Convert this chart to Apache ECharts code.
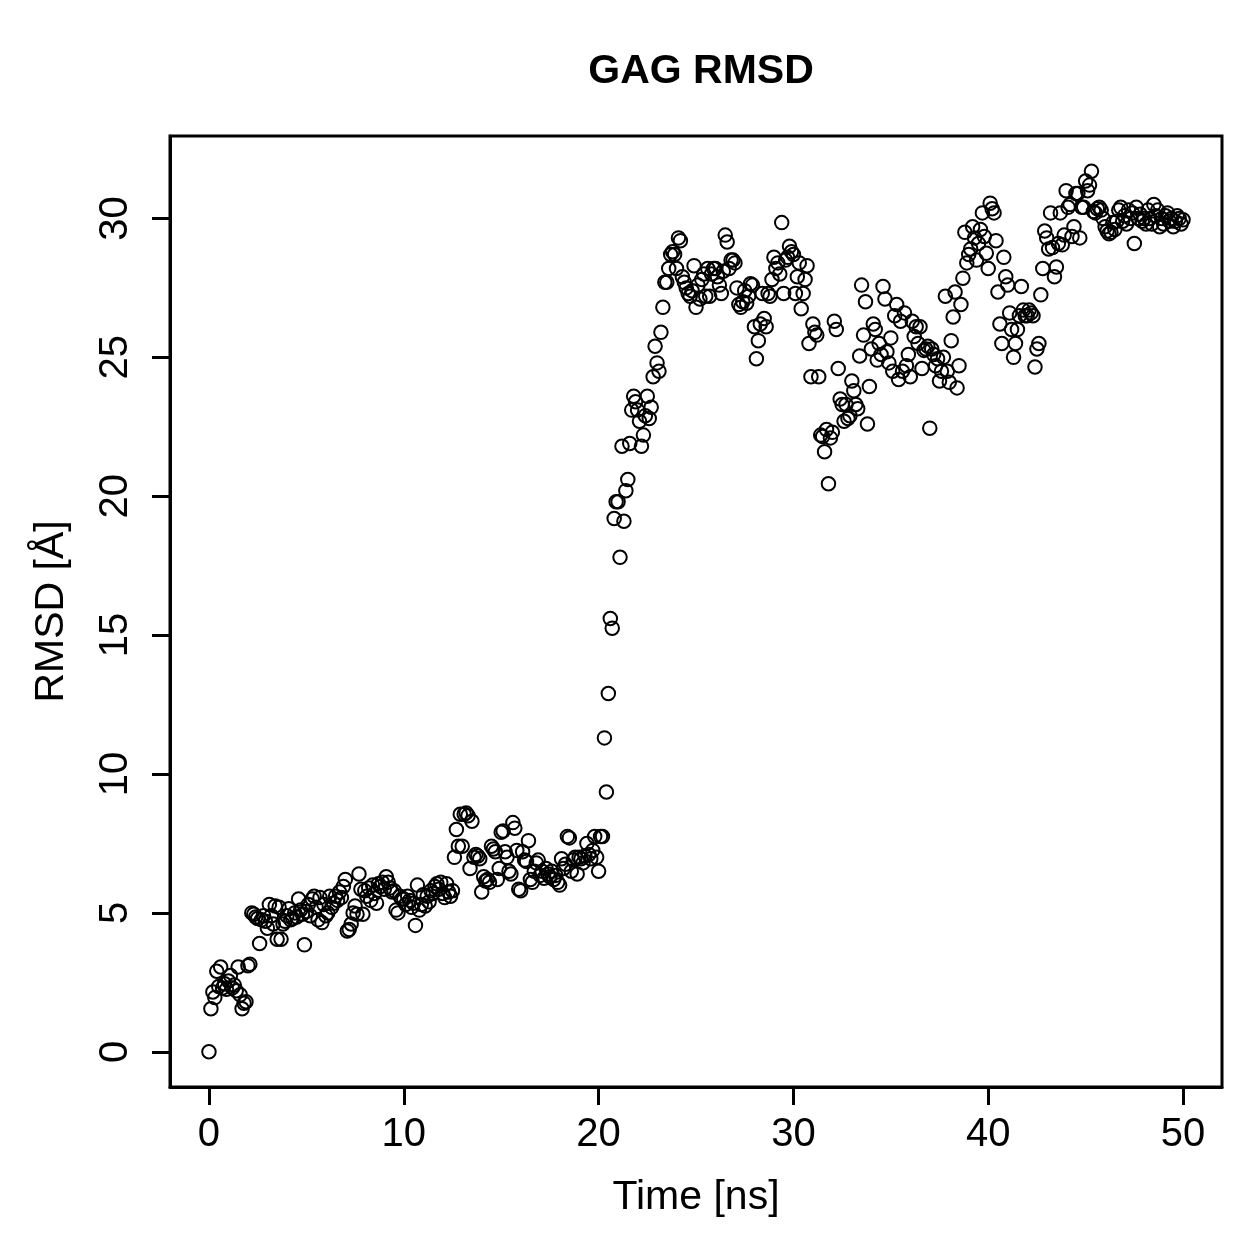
<!DOCTYPE html>
<html>
<head>
<meta charset="utf-8">
<script src="https://cdn.jsdelivr.net/npm/echarts@6/dist/echarts.min.js"></script>
<style>
  html, body { margin: 0; padding: 0; background: #fff; }
  #chart { width: 1259px; height: 1259px; }
</style>
</head>
<body>
<div id="chart"></div>
<script>
// RMSD per frame, one frame every 0.1 ns (0 - 50 ns)
const rmsd = [
  0.0, 1.55, 2.15, 1.95, 2.9, 2.35, 3.05, 2.3, 2.45, 2.25,
  2.55, 2.75, 2.3, 2.4, 2.2, 3.05, 2.05, 1.55, 1.75, 1.8,
  3.1, 3.15, 5.0, 4.95, 4.85, 4.8, 3.9, 4.75, 4.9, 4.7,
  4.45, 5.3, 4.9, 4.6, 5.25, 4.05, 5.2, 4.05, 4.6, 4.7,
  4.9, 5.15, 4.75, 4.8, 5.0, 4.85, 5.5, 5.1, 4.95, 3.85,
  5.05, 5.3, 4.9, 5.5, 5.6, 5.2, 4.75, 5.55, 4.65, 5.3,
  4.9, 5.0, 5.6, 5.2, 5.35, 5.6, 5.45, 5.75, 5.55, 5.95,
  6.2, 4.35, 4.4, 4.6, 5.0, 5.25, 4.95, 6.4, 5.85, 4.95,
  5.8, 5.6, 5.9, 5.45, 6.0, 5.7, 5.35, 6.05, 5.95, 6.1,
  5.85, 6.3, 6.1, 5.9, 5.75, 5.8, 5.1, 5.0, 5.6, 5.5,
  5.5, 5.3, 5.6, 5.45, 5.2, 5.35, 4.55, 6.0, 5.1, 5.3,
  5.65, 5.25, 5.6, 5.4, 5.8, 5.7, 5.95, 6.05, 5.85, 6.1,
  5.7, 5.55, 6.05, 5.75, 5.6, 5.8, 7.0, 8.0, 7.4, 8.55,
  7.4, 8.55, 8.6, 8.5, 6.6, 8.3, 7.0, 7.1, 7.05, 6.95,
  5.75, 6.3, 6.15, 6.2, 6.1, 7.4, 7.3, 7.2, 6.2, 6.6,
  7.9, 7.95, 7.2, 7.0, 6.5, 6.4, 8.25, 8.05, 7.25, 5.85,
  5.8, 7.2, 6.9, 6.85, 7.6, 6.2, 6.1, 6.5, 6.8, 6.9,
  6.35, 6.5, 6.25, 6.6, 6.4, 6.3, 6.5, 6.2, 6.35, 6.1,
  6.0, 6.95, 6.6, 6.75, 7.75, 7.7, 6.5, 6.9, 7.0, 6.4,
  7.0, 6.95, 6.8, 7.05, 7.5, 7.1, 6.95, 7.25, 7.75, 7.0,
  6.5, 7.75, 7.75, 11.3, 9.35, 12.9, 15.6, 15.25, 19.2, 19.8,
  19.8, 17.8, 21.8, 19.1, 20.2, 20.6, 21.9, 23.1, 23.6, 23.4,
  23.1, 22.7, 21.8, 22.2, 22.9, 23.6, 22.8, 23.2, 24.3, 25.4,
  24.8, 24.5, 25.9, 26.8, 27.7, 27.7, 28.2, 28.7, 28.8, 28.7,
  28.2, 29.3, 29.2, 27.9, 27.7, 27.5, 27.3, 27.2, 27.4, 28.3,
  26.8, 27.6, 27.1, 27.8, 28.0, 27.2, 28.2, 27.2, 28.0, 28.2,
  28.2, 27.9, 27.6, 27.3, 28.1, 29.4, 29.15, 28.2, 28.5, 28.5,
  28.4, 27.5, 26.9, 26.8, 27.0, 27.4, 26.95, 27.2, 27.65, 27.6,
  26.1, 24.95, 25.6, 26.2, 27.3, 26.4, 26.1, 27.3, 27.2, 27.8,
  28.6, 28.2, 28.4, 28.0, 29.85, 27.3, 28.5, 28.6, 29.0, 28.8,
  28.7, 27.3, 27.9, 28.4, 26.75, 27.3, 27.8, 28.3, 25.5, 24.3,
  26.2, 25.9, 25.8, 24.3, 22.2, 22.15, 21.6, 22.4, 20.45, 22.1,
  22.3, 26.3, 26.0, 24.6, 23.5, 23.3, 22.7, 23.3, 22.8, 22.9,
  24.15, 23.8, 23.3, 23.15, 25.05, 27.6, 25.8, 27.0, 22.6, 23.95,
  25.3, 26.2, 26.0, 24.9, 25.5, 25.1, 27.55, 27.1, 25.2, 24.8,
  25.7, 24.5, 26.5, 26.9, 24.2, 26.3, 24.5, 26.6, 24.7, 25.1,
  24.3, 26.3, 25.75, 26.1, 25.5, 26.1, 24.6, 25.25, 25.3, 25.4,
  22.45, 25.3, 25.1, 24.7, 24.95, 24.15, 24.5, 25.0, 27.2, 24.5,
  24.1, 25.6, 26.45, 27.35, 23.9, 24.7, 26.9, 27.85, 29.5, 28.4,
  28.7, 28.9, 29.7, 29.3, 28.5, 29.1, 29.6, 30.2, 29.35, 28.75,
  28.2, 30.55, 30.35, 30.2, 29.2, 27.35, 26.2, 25.5, 28.6, 27.9,
  27.6, 26.6, 26.0, 25.0, 25.5, 26.0, 26.5, 27.55, 26.7, 26.5,
  26.5, 26.7, 26.6, 26.5, 24.65, 25.3, 25.5, 27.25, 28.2, 29.55,
  29.3, 28.9, 30.2, 28.95, 27.9, 28.25, 29.1, 30.2, 29.05, 29.4,
  31.0, 30.4, 30.5, 29.35, 29.7, 30.9, 30.9, 29.3, 30.4, 30.4,
  31.35, 31.0, 31.2, 31.7, 30.25, 30.2, 30.35, 30.4, 30.3, 30.0,
  29.7, 29.55, 29.45, 29.5, 29.85, 29.6, 29.9, 30.3, 30.4, 29.9,
  30.1, 29.8, 30.3, 30.0, 30.2, 29.1, 30.4, 30.0, 30.15, 29.9,
  30.0, 29.8, 30.3, 30.0, 29.8, 30.5, 30.1, 30.3, 29.7, 30.0,
  29.8, 30.1, 30.2, 29.9, 30.0, 29.7, 29.9, 30.1, 30.0, 29.8,
  29.95
];
const timeStep = 0.1; // ns per frame
const xTicks = [0, 10, 20, 30, 40, 50];
const yTicks = [0, 5, 10, 15, 20, 25, 30];

const points = rmsd.map((v, i) => [+(i * timeStep).toFixed(1), v]);

// R style 4% padding around the data range
const xEnd = (rmsd.length - 1) * timeStep;
const yMax = Math.max(...rmsd);
const yMin = Math.min(...rmsd);
const xPad = xEnd * 0.04;
const yPad = (yMax - yMin) * 0.04;

const font = "'Liberation Sans', Arial, Helvetica, sans-serif";
const tickStyle = { color: "#000", width: 3 };

const chart = echarts.init(document.getElementById("chart"));

chart.setOption({
  animation: false,
  backgroundColor: "#fff",
  title: {
    text: "GAG RMSD",
    left: 696,
    textAlign: "center",
    top: 46,
    textStyle: { fontFamily: font, fontSize: 41, fontWeight: "bold", color: "#000" },
  },
  grid: {
    left: 170,
    right: 37,
    top: 136,
    bottom: 172,
    show: true,
    borderColor: "#000",
    borderWidth: 3,
  },
  xAxis: {
    type: "value",
    min: -xPad,
    max: xEnd + xPad,
    name: "Time [ns]",
    nameLocation: "middle",
    nameGap: 90,
    nameTextStyle: { fontFamily: font, fontSize: 41, color: "#000" },
    axisLine: { show: true, onZero: false, lineStyle: tickStyle },
    axisTick: { show: true, inside: false, length: 18, customValues: xTicks, lineStyle: tickStyle },
    axisLabel: {
      customValues: xTicks,
      margin: 28,
      fontFamily: font,
      fontSize: 40,
      color: "#000",
    },
    splitLine: { show: false },
  },
  yAxis: {
    type: "value",
    min: yMin - yPad,
    max: yMax + yPad,
    name: "RMSD [Å]",
    nameLocation: "middle",
    nameGap: 98,
    nameTextStyle: { fontFamily: font, fontSize: 41, color: "#000" },
    axisLine: { show: true, onZero: false, lineStyle: tickStyle },
    axisTick: { show: true, inside: false, length: 18, customValues: yTicks, lineStyle: tickStyle },
    axisLabel: {
      customValues: yTicks,
      rotate: 90,
      margin: 34,
      fontFamily: font,
      fontSize: 40,
      color: "#000",
    },
    splitLine: { show: false },
  },
  series: [
    {
      type: "scatter",
      data: points,
      symbol: "circle",
      symbolSize: 13.5,
      itemStyle: {
        color: "rgba(0,0,0,0)",
        borderColor: "#000",
        borderWidth: 2,
        opacity: 1,
      },
    },
  ],
});
</script>
</body>
</html>
